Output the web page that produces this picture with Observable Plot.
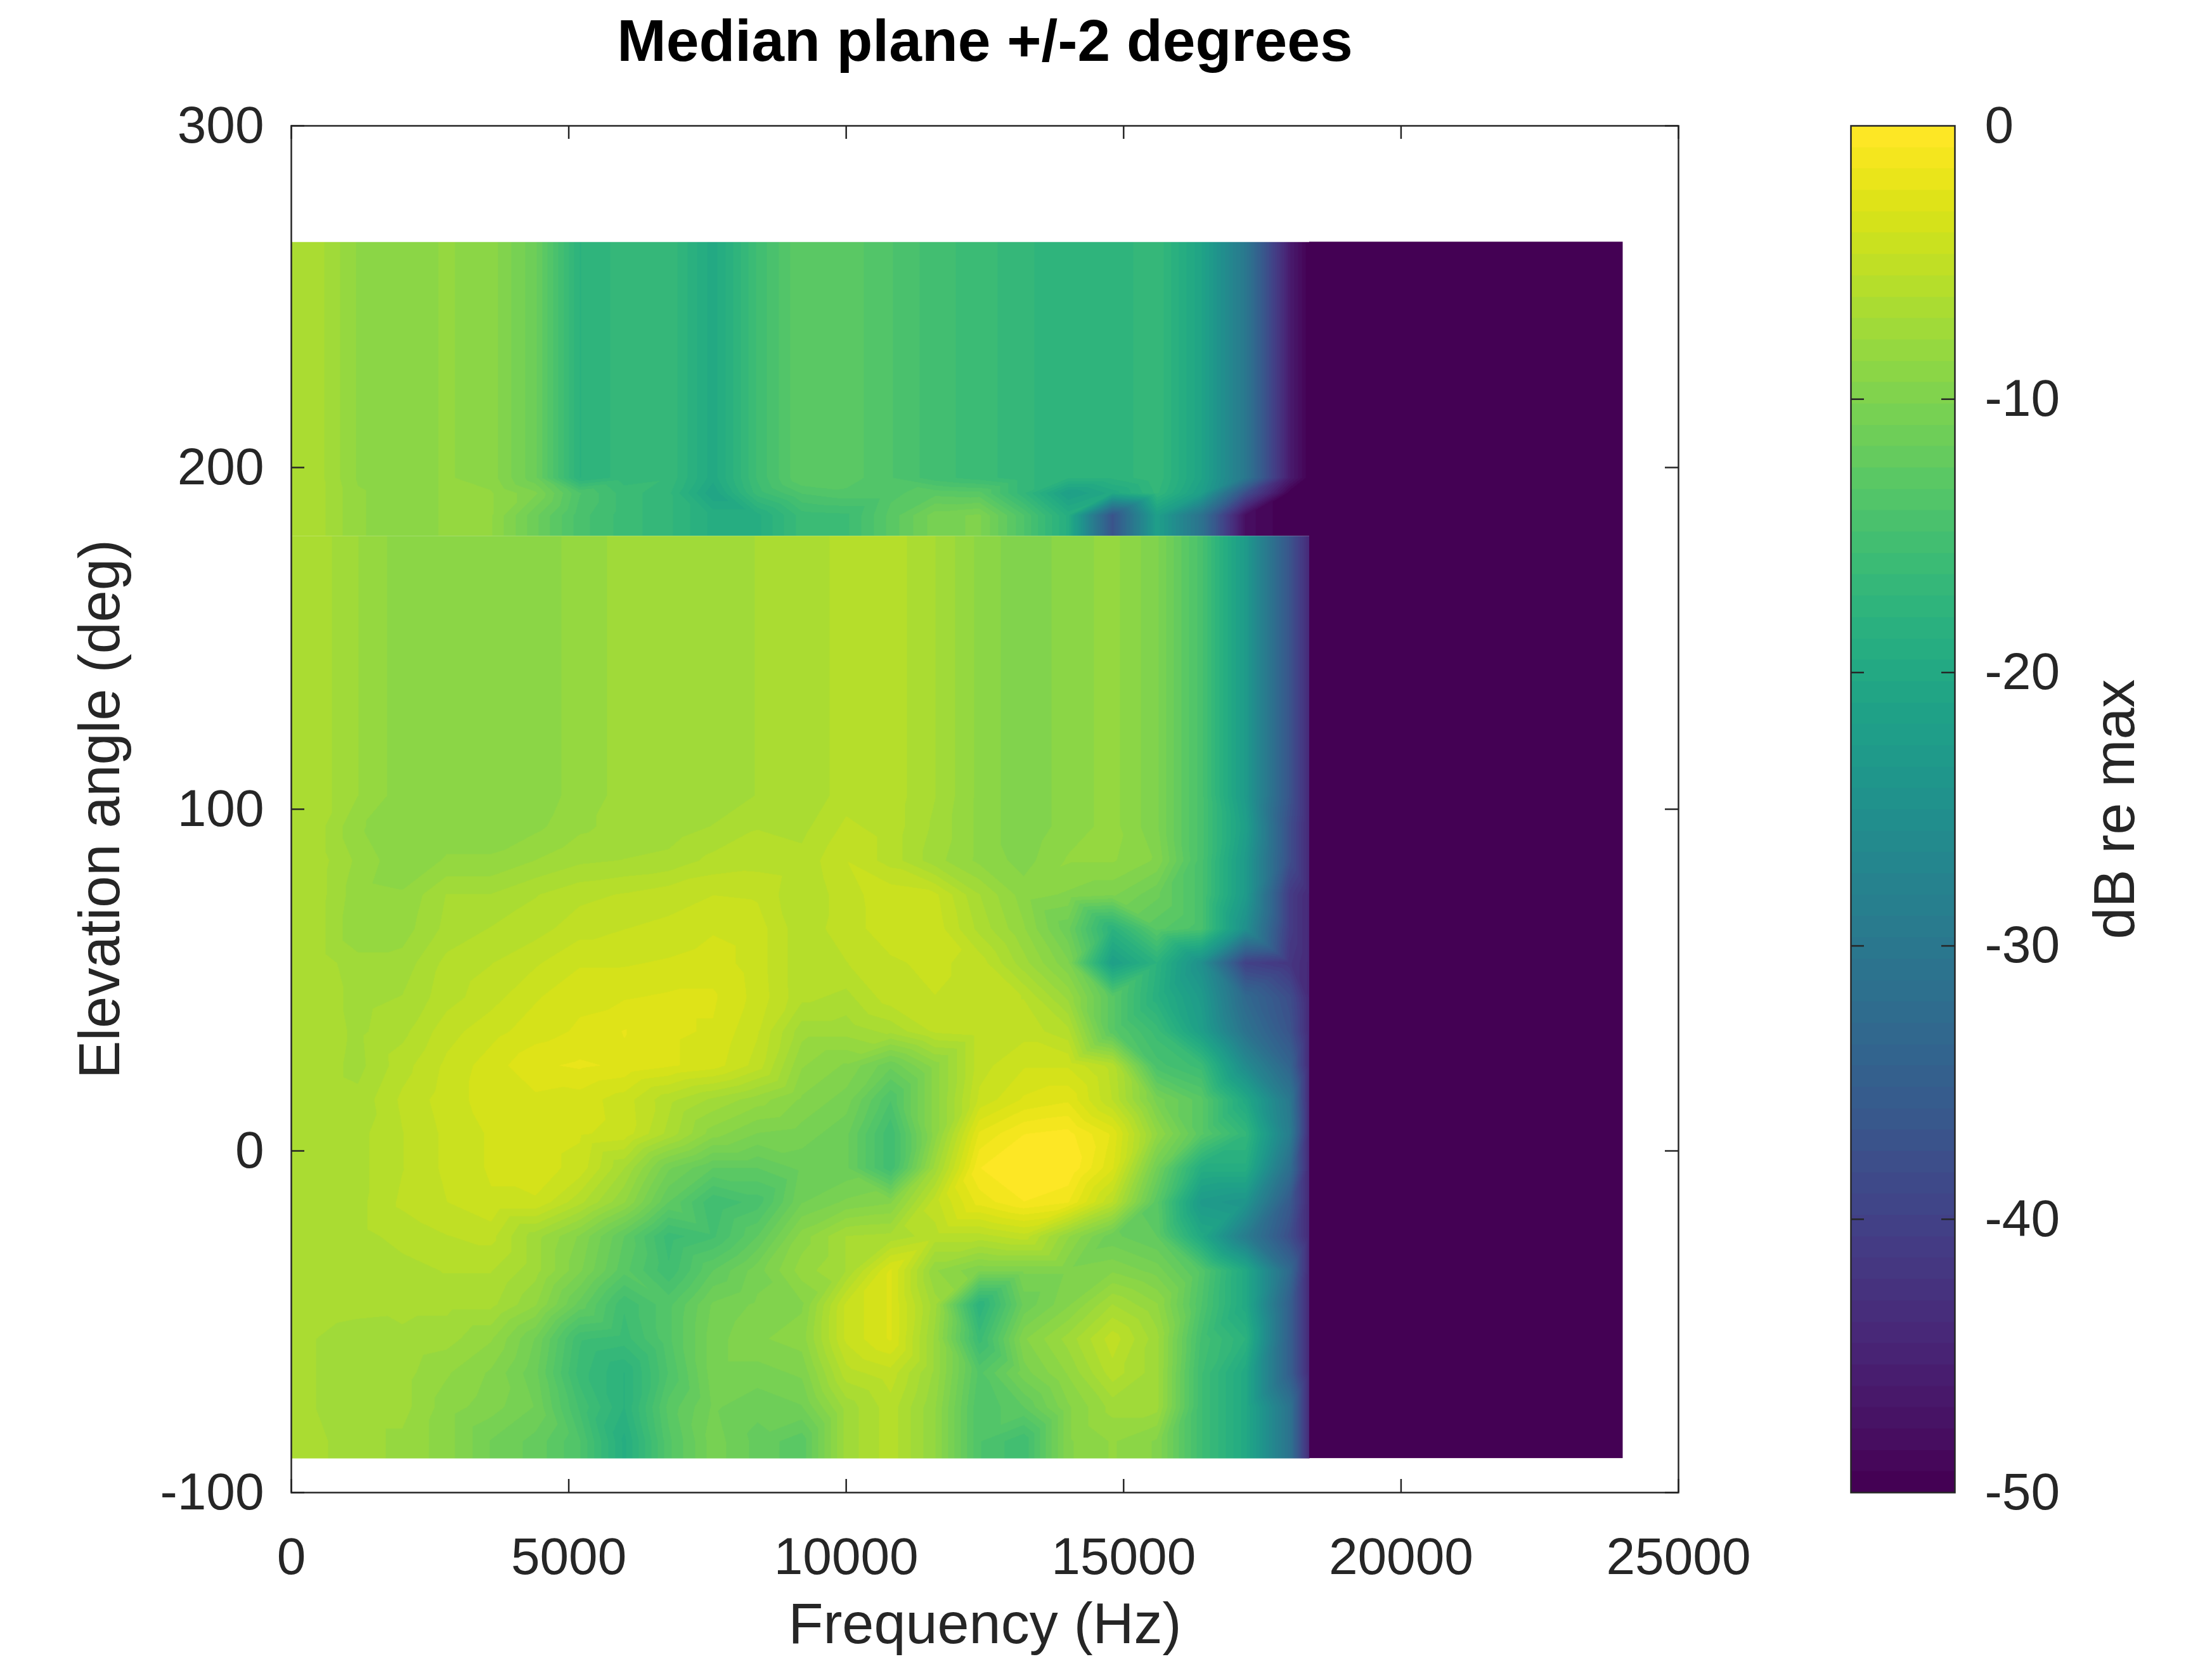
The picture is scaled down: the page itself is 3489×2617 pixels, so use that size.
<!DOCTYPE html>
<html><head><meta charset="utf-8">
<script src="https://cdn.jsdelivr.net/npm/d3@7"></script>
<script src="https://cdn.jsdelivr.net/npm/@observablehq/plot@0.6"></script>
<style>
html,body{margin:0;padding:0;background:#fff;overflow:hidden;}
#wrap{display:flex;width:3489px;height:2617px;}
#wrap > svg{flex:none;}
</style></head><body><div id="wrap"></div>
<script>
// ---- data (dB re max) ----
const freqHz = [400,1200,2000,2800,3600,4400,5200,6000,6800,7600,8400,9200,10000,10800,11600,12400,13200,14000,14800,15600,16400,17200,18000];
const cutoffHz = 18350;      // start of the -50 dB floor
const nyquistHz = 24000;
const floorDb = -50;
const upperEdgeDb = -50;     // level just left of the cutoff, 180..266 deg
const lowerEdgeDb = -44;     // level just left of the cutoff, -90..180 deg
const topElev = 266;
const bottomElev = -90;

// upper region (180 .. 266 deg)
const U1 = [-6.5,-8.7,-9,-8.5,-9,-11.5,-18,-16.8,-16.5,-20,-15.5,-12.5,-12.8,-14,-15.3,-16,-17,-17.8,-17.8,-16.5,-21,-30,-46];
const U2 = [-6.5,-8.5,-9,-8.5,-8.5,-10,-14,-16,-17,-21,-16,-14,-13.5,-13.5,-12.8,-13,-17,-22,-20,-17,-22,-38,-50];
const U3 = [-6.5,-8.5,-9,-8.5,-8.5,-11.5,-14.5,-16,-17,-19,-19,-16,-15.8,-13,-10.5,-10,-14,-19,-37,-22,-31,-48,-50];
// band 104 .. 180 deg (constant in elevation)
const L0 = [-6.5,-7.8,-9,-9,-9,-9,-8.3,-7.5,-7.5,-7.5,-7,-7,-5.8,-5.8,-7,-8.8,-10,-9,-8.3,-10,-14.5,-23,-37];
// lower region rows
const r95  = [-6.5,-8.5,-9,-9,-9,-8.8,-8,-7.5,-7.5,-7,-6.3,-6.5,-5.3,-5.8,-7.2,-8.8,-10,-9,-8.3,-10,-14.5,-22,-38];
const r85  = [-6.5,-8,-9.2,-8.5,-8.5,-7.8,-7.2,-7,-6.8,-6,-5.8,-6,-4.7,-5.8,-7.5,-8.8,-9.7,-8.5,-8.5,-9.5,-14.5,-23,-38];
const r75  = [-6.5,-8.3,-8.5,-7,-7,-6.3,-5.7,-5.4,-5,-4.7,-4.8,-6.2,-5,-4.2,-4.5,-7,-9,-9.5,-10,-11.5,-14.5,-23,-41];
const r65  = [-6.5,-8.5,-8.2,-6.8,-6.2,-5.8,-5,-4.7,-4.5,-4,-4.3,-6,-5,-4.3,-4.2,-6.5,-8.5,-11.5,-18,-13,-14.5,-25,-41];
const r55  = [-6.5,-7.5,-7.5,-6,-5.5,-4.8,-4,-4,-3.8,-3.5,-4.3,-6,-5.5,-4.8,-4.5,-5,-7.5,-10,-22,-18,-25,-40,-42];
const r45  = [-6.5,-7.3,-7,-5.8,-5,-4,-3.3,-3.2,-3,-3,-4.2,-6,-6.5,-5,-4.7,-5,-5.5,-8,-13,-18.5,-23,-33,-38];
const r35  = [-6.5,-7.2,-6.5,-5,-4.2,-3.5,-3,-2.3,-3,-3.2,-4.6,-7.5,-7.5,-6.8,-5.3,-5,-5,-6,-13,-16,-22,-31,-37];
const r25  = [-6.5,-7.3,-5.8,-4.5,-3.5,-2.5,-2.2,-2.5,-3,-3.5,-5,-8.5,-9.5,-11.5,-9,-5,-4,-4,-5.8,-14.5,-16,-26,-34];
const r15  = [-6.5,-6.8,-5.3,-4.3,-3.5,-3.3,-3.5,-4.3,-6,-7.2,-8.2,-9.5,-10.5,-14,-9,-4.5,-3,-2.5,-5.5,-10.5,-13,-20,-30];
const r5   = [-6.5,-6.5,-5.5,-4.5,-3.8,-3.5,-3.8,-4.2,-6.5,-9,-10.2,-10.5,-11.5,-15.5,-9,-2.2,-0.8,-0.5,-2.5,-8.5,-13,-17,-29];
const rm5  = [-6.5,-6.5,-5.5,-4.5,-3.8,-3.5,-4.2,-7,-10.8,-12.5,-12.5,-11.5,-11.5,-15.5,-7.5,-0.8,0,0,-3,-11,-19,-19,-32];
const rm15 = [-6.5,-6.5,-5.3,-4.7,-4,-4,-6,-8.5,-12.5,-15.5,-14.5,-11,-10,-9.5,-5,-2,-0.8,-1.5,-5.5,-13,-23,-24,-36];
const rm25 = [-6.5,-6.5,-6,-5.5,-5.2,-7.5,-9.5,-12.5,-16,-15,-12.5,-9,-7,-6.8,-5.8,-5.8,-5,-8.5,-11.5,-12.5,-20,-29,-38];
const rm35 = [-6.5,-6.5,-6.5,-6.2,-6.2,-7.5,-10,-13,-15.5,-12.5,-10.5,-8.2,-7,-3,-8.5,-10,-10,-10,-9.5,-10.5,-13.5,-20,-33];
const rm45 = [-6.5,-6.7,-6.8,-6.8,-6.8,-8.5,-12,-15.5,-13.5,-10.8,-10,-9.5,-4.5,-3,-7.5,-18,-11.5,-9.5,-7,-8.5,-14,-20,-35];
const rm55 = [-7,-7.5,-7.2,-7.5,-8.5,-11,-15.5,-16,-13.5,-10.5,-9.5,-9,-4.5,-3,-8,-16,-9.5,-7.5,-5,-7.5,-15,-18,-35];
const rm65 = [-7,-7.5,-7.5,-8.5,-9.5,-11.5,-16,-18,-14,-10.5,-10.5,-10,-5.8,-5,-8,-13.5,-10.5,-8.5,-5.8,-7.5,-15.5,-20,-35];
const rm75 = [-7,-7.5,-7.5,-9,-9.8,-11,-15,-18,-13,-10.8,-11.5,-11,-7.5,-5.8,-8.5,-14,-12.5,-9.5,-7.5,-7.5,-15.5,-20,-31];
const rm85 = [-6.8,-7.5,-8,-9,-11,-12,-14,-19,-13.5,-10.5,-12,-13,-7.5,-5.8,-8.5,-14,-15.5,-9.5,-8.5,-9.5,-15.5,-20,-31];

// elevation of each row (bands repeated at their edges: constant in elevation)
const upperElev = [180, 186, 192.5, 197, topElev];
const upperRows = [U3, U3, U2, U1, U1];
const lowerElev = [180, 104, 95, 85, 75, 65, 55, 45, 35, 25, 15, 5, -5, -15, -25, -35, -45, -55, -65, -75, -85, bottomElev];
const lowerRows = [L0, L0, r95, r85, r75, r65, r55, r45, r35, r25, r15, r5, rm5, rm15, rm25, rm35, rm45, rm55, rm65, rm75, rm85, rm85];

const xTicks = [0, 5000, 10000, 15000, 20000, 25000];
const yTicks = [-100, 0, 100, 200, 300];
const cbTicks = [0, -10, -20, -30, -40, -50];

// ---- tables for the library ----
// the 0..400 Hz strip has the same colour as the 400 Hz column; the cutoff column holds the edge level
function cells(elevs, rows, edgeDb) {
  const fs = [0, ...freqHz, cutoffHz];
  const out = [];
  elevs.forEach((e, r) => {
    const vals = [rows[r][0], ...rows[r], edgeDb];
    fs.forEach((f, c) => out.push({f, e, v: vals[c]}));
  });
  return out;
}
const upperCells = cells(upperElev, upperRows, upperEdgeDb);
const lowerCells = cells(lowerElev, lowerRows, lowerEdgeDb);
const floorBand = [{x1: cutoffHz, x2: nyquistHz, y1: bottomElev, y2: topElev, v: floorDb}];

// ---- colour map: 64-level viridis over -50..0 dB ----
const nLevels = 64;
const thresholds = d3.range(1, nLevels).map(i => -50 + i * 50 / nLevels);
const levelColors = d3.quantize(d3.interpolateViridis, nLevels);
const color = {type: "threshold", domain: thresholds, range: levelColors};

// ---- layout ----
const FONT = '"Liberation Sans", Arial, Helvetica, sans-serif';
const INK = "#262626";
const H = 2617, W1 = 2800, W2 = 689;
const fL = 459, fR = 2647, fT = 198, fB = 2354;
const cbL = 2919, cbR = 3083;
const frameH = fB - fT, frameW = fR - fL, cbW = cbR - cbL;
const TICK = 21;

const main = Plot.plot({
  width: W1, height: H,
  marginLeft: fL, marginRight: W1 - fR, marginTop: fT, marginBottom: H - fB,
  style: {fontFamily: FONT, background: "white", color: INK, overflow: "visible"},
  x: {domain: [0, 25000], axis: null},
  y: {domain: [-100, 300], axis: null},
  color,
  marks: [
    Plot.raster(upperCells, {x: "f", y: "e", fill: "v", x1: 0, x2: cutoffHz, y1: 180, y2: topElev, interpolate: "barycentric"}),
    Plot.raster(lowerCells, {x: "f", y: "e", fill: "v", x1: 0, x2: cutoffHz, y1: bottomElev, y2: 180, interpolate: "barycentric"}),
    Plot.rect(floorBand, {x1: "x1", x2: "x2", y1: "y1", y2: "y2", fill: "v"}),
    Plot.frame({stroke: INK, strokeWidth: 2.5}),
    Plot.ruleX(xTicks, {x: d => d, insetTop: frameH - TICK, stroke: INK, strokeWidth: 2.5}),
    Plot.ruleX(xTicks, {x: d => d, insetBottom: frameH - TICK, stroke: INK, strokeWidth: 2.5}),
    Plot.ruleY(yTicks, {y: d => d, insetRight: frameW - TICK, stroke: INK, strokeWidth: 2.5}),
    Plot.ruleY(yTicks, {y: d => d, insetLeft: frameW - TICK, stroke: INK, strokeWidth: 2.5}),
    Plot.text(xTicks, {x: d => d, text: d => String(d), frameAnchor: "bottom", dy: 128, lineAnchor: "bottom", textAnchor: "middle", fontSize: 82, fill: INK}),
    Plot.text(yTicks, {y: d => d, text: d => String(d), frameAnchor: "left", dx: -43, textAnchor: "end", lineAnchor: "middle", fontSize: 82, fill: INK}),
    Plot.text(["Frequency (Hz)"], {frameAnchor: "bottom", dy: 237, lineAnchor: "bottom", textAnchor: "middle", fontSize: 90, fill: INK}),
    Plot.text(["Elevation angle (deg)"], {frameAnchor: "left", dx: -300, rotate: -90, textAnchor: "middle", lineAnchor: "middle", fontSize: 90, fill: INK}),
    Plot.text(["Median plane +/-2 degrees"], {frameAnchor: "top", dy: -103, lineAnchor: "bottom", textAnchor: "middle", fontSize: 93, fontWeight: "bold", fill: "black"})
  ]
});

const bar = Plot.plot({
  width: W2, height: H,
  marginLeft: cbL - W1, marginRight: W2 - (cbR - W1), marginTop: fT, marginBottom: H - fB,
  style: {fontFamily: FONT, background: "white", color: INK, overflow: "visible"},
  x: {domain: [0, 1], axis: null},
  y: {domain: [-50, 0], axis: null},
  color,
  marks: [
    Plot.raster({fill: (x, y) => y, x1: 0, x2: 1, y1: -50, y2: 0}),
    Plot.frame({stroke: INK, strokeWidth: 2.5}),
    Plot.ruleY(cbTicks.slice(1, -1), {y: d => d, insetRight: cbW - TICK, stroke: INK, strokeWidth: 2.5}),
    Plot.ruleY(cbTicks.slice(1, -1), {y: d => d, insetLeft: cbW - TICK, stroke: INK, strokeWidth: 2.5}),
    Plot.text(cbTicks, {y: d => d, text: d => String(d), frameAnchor: "right", dx: 47, textAnchor: "start", lineAnchor: "middle", fontSize: 82, fill: INK}),
    Plot.text(["dB re max"], {frameAnchor: "right", dx: 254, rotate: -90, textAnchor: "middle", lineAnchor: "middle", fontSize: 90, fill: INK})
  ]
});

document.getElementById("wrap").append(main, bar);
</script>
</body></html>
